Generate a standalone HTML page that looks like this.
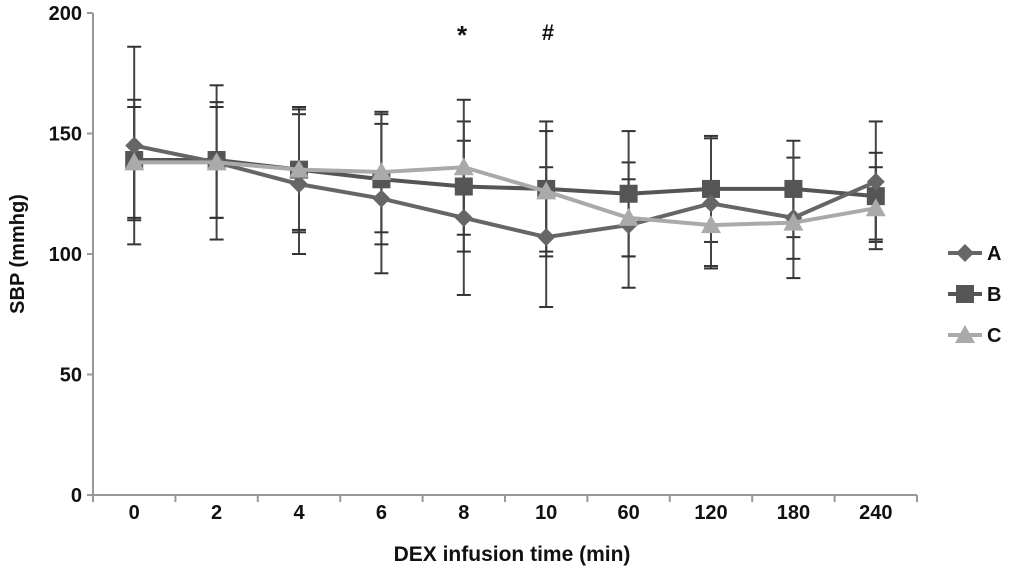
<!DOCTYPE html>
<html><head><meta charset="utf-8"><style>
html,body{margin:0;padding:0;background:#fff}
svg text{font-family:"Liberation Sans",Arial,sans-serif;font-weight:bold;fill:#111}
</style></head><body>
<svg id="chart" width="1033" height="572" viewBox="0 0 1033 572" xmlns="http://www.w3.org/2000/svg"></svg>
<script>
const categories=["0","2","4","6","8","10","60","120","180","240"];
const yTicks=[0,50,100,150,200];
const seriesNames=["A","B","C"];
const meanA=[145,138,129,123,115,107,112,121,115,130];
const meanB=[139,139,135,131,128,127,125,127,127,124];
const meanC=[138,138,135,134,136,126,115,112,113,119];
const sdA=[41,32,29,31,32,29,26,27,25,25];
const sdB=[25,24,26,27,27,28,26,22,20,18];
const sdC=[23,23,25,25,28,25,16,17,15,17];

const svg=document.getElementById('chart');
const NS='http://www.w3.org/2000/svg';
const X0=93,X1=917,Y0=495,Y1=13;
function xs(i){return X0+(X1-X0)/categories.length*(i+0.5);}
function ys(v){return Y0-(Y0-Y1)*v/200;}
function mk(tag,attrs,name,parent){const e=document.createElementNS(NS,tag);for(const k in attrs)e.setAttribute(k,attrs[k]);


(parent||svg).appendChild(e);return e;}

mk('line',{x1:X0,y1:Y1,x2:X0,y2:Y0,stroke:'#999','stroke-width':2},'y-axis');
mk('line',{x1:X0,y1:Y0,x2:X1,y2:Y0,stroke:'#999','stroke-width':2},'x-axis');
yTicks.forEach(v=>{
  mk('line',{x1:X0-6,y1:ys(v),x2:X0,y2:ys(v),stroke:'#999','stroke-width':2},'y-tick');
  const t=mk('text',{x:X0-11,y:ys(v)+7,'text-anchor':'end','font-size':20},'y-tick-label');t.textContent=v;
});
for(let i=0;i<=categories.length;i++){
  const x=X0+(X1-X0)/categories.length*i;
  mk('line',{x1:x,y1:Y0,x2:x,y2:Y0+7,stroke:'#999','stroke-width':2},'x-tick');
}
categories.forEach((c,i)=>{const t=mk('text',{x:xs(i),y:519,'text-anchor':'middle','font-size':20},'x-tick-label');t.textContent=c;});
let t=mk('text',{x:512,y:561,'text-anchor':'middle','font-size':21},'x-axis-title');t.textContent='DEX infusion time (min)';
t=mk('text',{x:0,y:0,'text-anchor':'middle','font-size':20,transform:'translate(24,254) rotate(-90)'},'y-axis-title');t.textContent='SBP (mmhg)';
t=mk('text',{x:462,y:44,'text-anchor':'middle','font-size':26,'font-weight':'normal'},'significance-star');t.textContent='*';
t=mk('text',{x:548,y:40,'text-anchor':'middle','font-size':22,'font-weight':'normal'},'significance-hash');t.textContent='#';

const means=[meanA,meanB,meanC],sds=[sdA,sdB,sdC];
const colors=['#666','#555','#aaa'];
means.forEach((m,s)=>{m.forEach((v,i)=>{
  const x=xs(i),hi=ys(v+sds[s][i]),lo=ys(v-sds[s][i]);
  mk('line',{x1:x,y1:hi,x2:x,y2:lo,stroke:'#444','stroke-width':2},'error-bar-'+seriesNames[s]);
  mk('line',{x1:x-7,y1:hi,x2:x+7,y2:hi,stroke:'#333','stroke-width':2},'error-cap');
  mk('line',{x1:x-7,y1:lo,x2:x+7,y2:lo,stroke:'#333','stroke-width':2},'error-cap');
});});
function marker(s,x,y,name){
  if(s===0) mk('polygon',{points:`${x},${y-9} ${x+9},${y} ${x},${y+9} ${x-9},${y}`,fill:colors[0]},name);
  else if(s===1) mk('rect',{x:x-9,y:y-9,width:18,height:18,fill:colors[1]},name);
  else mk('polygon',{points:`${x},${y-10} ${x+10},${y+8} ${x-10},${y+8}`,fill:colors[2]},name);
}
[1,0,2].forEach(s=>{
  const m=means[s];
  mk('polyline',{points:m.map((v,i)=>xs(i)+','+ys(v)).join(' '),fill:'none',stroke:colors[s],'stroke-width':4},'line-'+seriesNames[s]);
  m.forEach((v,i)=>marker(s,xs(i),ys(v),'point-'+seriesNames[s]));
});
seriesNames.forEach((n,s)=>{
  const y=253+s*41;
  mk('line',{x1:948,y1:y,x2:982,y2:y,stroke:colors[s],'stroke-width':4},'legend-line-'+n);
  marker(s,965,y,'legend-marker-'+n);
  const tt=mk('text',{x:987,y:y+7,'font-size':20},'legend-label-'+n);tt.textContent=n;
});
</script>
</body></html>
